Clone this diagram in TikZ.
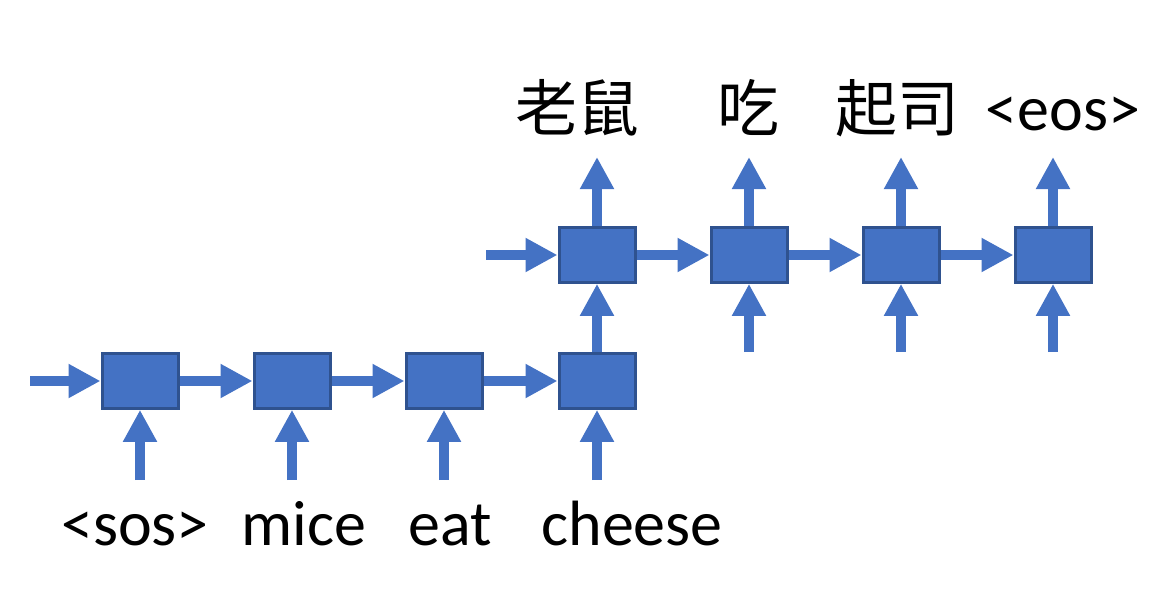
\documentclass[tikz,border=0pt]{standalone}
\usepackage{fontspec}
\setmainfont{Carlito}
\newfontfamily\cjk{Noto Sans CJK TC}
\usetikzlibrary{arrows.meta}

\definecolor{cellblue}{HTML}{4472C4}
\definecolor{cellrim}{HTML}{2F528F}

\tikzset{
  cell/.style={draw=cellrim, line width=2.25pt, fill=cellblue,
    minimum width=57pt, minimum height=41pt, inner sep=0pt},
  flow/.style={draw=cellblue, line width=7.5pt,
    -{Triangle[width=24pt, length=24pt]}},
  word/.style={font=\fontsize{48}{52}\selectfont, inner sep=0pt, anchor=base},
  hanzi/.style={word, font=\fontsize{46.5}{52}\selectfont\cjk},
}

\begin{document}
\begin{tikzpicture}[x=0.75pt, y=-0.75pt]
  \useasboundingbox (0,0) rectangle (1175,589);

  % Encoder
  \node[cell] (e1) at (140,381) {};
  \node[cell] (e2) at (292,381) {};
  \node[cell] (e3) at (444,381) {};
  \node[cell] (e4) at (597,381) {};

  % Decoder
  \node[cell] (d1) at (597,255) {};
  \node[cell] (d2) at (749,255) {};
  \node[cell] (d3) at (901,255) {};
  \node[cell] (d4) at (1053,255) {};

  % Free ends
  \coordinate (e0) at (30,381);
  \coordinate (d0) at (486,255);
  \coordinate (x1) at (140,480);
  \coordinate (x2) at (292,480);
  \coordinate (x3) at (444,480);
  \coordinate (x4) at (597,480);
  \coordinate (y2) at (749,352);
  \coordinate (y3) at (901,352);
  \coordinate (y4) at (1053,352);
  \coordinate (o1) at (597,157);
  \coordinate (o2) at (749,157);
  \coordinate (o3) at (901,157);
  \coordinate (o4) at (1053,157);

  % Recurrent links
  \draw[flow] (e0) -- (e1.west);
  \draw[flow] (e1.east) -- (e2.west);
  \draw[flow] (e2.east) -- (e3.west);
  \draw[flow] (e3.east) -- (e4.west);
  \draw[flow] (e4.north) -- (d1.south);
  \draw[flow] (d0) -- (d1.west);
  \draw[flow] (d1.east) -- (d2.west);
  \draw[flow] (d2.east) -- (d3.west);
  \draw[flow] (d3.east) -- (d4.west);

  % Inputs
  \draw[flow] (x1) -- (e1.south);
  \draw[flow] (x2) -- (e2.south);
  \draw[flow] (x3) -- (e3.south);
  \draw[flow] (x4) -- (e4.south);
  \draw[flow] (y2) -- (d2.south);
  \draw[flow] (y3) -- (d3.south);
  \draw[flow] (y4) -- (d4.south);

  % Outputs
  \draw[flow] (d1.north) -- (o1);
  \draw[flow] (d2.north) -- (o2);
  \draw[flow] (d3.north) -- (o3);
  \draw[flow] (d4.north) -- (o4);

  % Words
  \node[word] (w1) at (135,545) {\textless sos\textgreater};
  \node[word] (w2) at (304,545) {mice};
  \node[word] (w3) at (450,545) {eat};
  \node[word] (w4) at (632,545) {cheese};
  \node[hanzi] (t1) at (577,131) {老鼠};
  \node[hanzi] (t2) at (748,131) {吃};
  \node[hanzi] (t3) at (897,131) {起司};
  \node[word] (t4) at (1063,130) {\textless eos\textgreater};
\end{tikzpicture}
\end{document}
